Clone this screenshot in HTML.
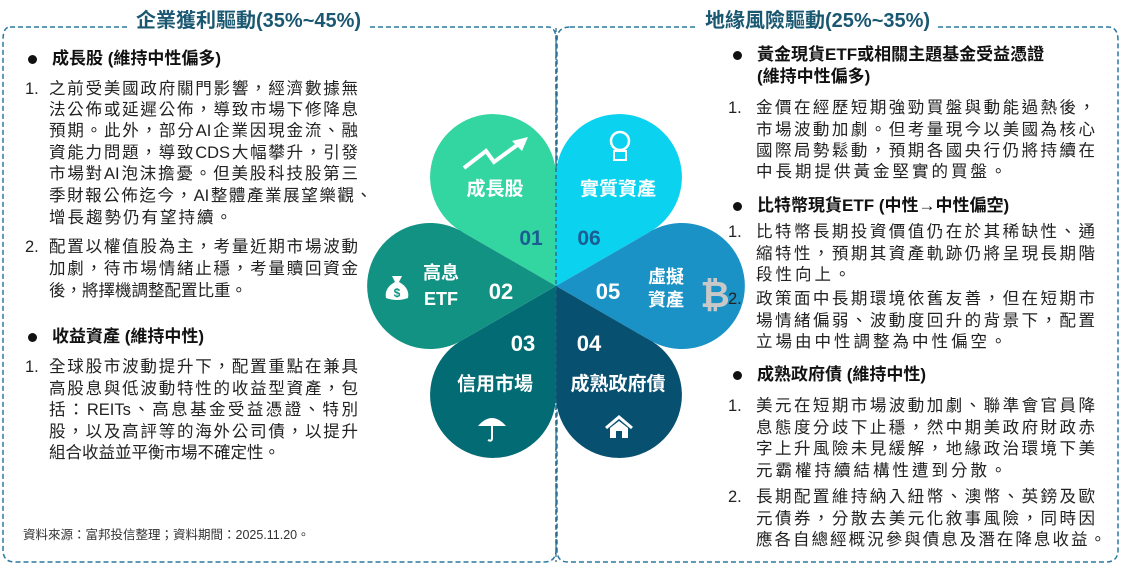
<!DOCTYPE html>
<html><head><meta charset="utf-8">
<style>
body{margin:0;width:1125px;height:567px;background:#fff;position:relative;overflow:hidden;font-family:"Liberation Sans","Noto Sans CJK TC",sans-serif;color:#222}
.l{position:absolute;font-size:16.5px;line-height:20px;white-space:nowrap}
.j{text-align:justify;text-align-last:justify}
.h{position:absolute;font-size:17px;font-weight:bold;line-height:20px;white-space:nowrap;color:#111}
.b{position:absolute;width:9px;height:9px;border-radius:50%;background:#111}
.t{position:absolute;font-size:20px;font-weight:bold;color:#1a5872;background:#fff;padding:0 8px;line-height:24px}
svg{position:absolute;left:0;top:0}
</style></head><body>
<svg width="1125" height="567">
<path d="M10 27 L548 27 Q556 27 556 40 L556 550 Q556 562 544 562 L15 562 Q3 562 3 550 L3 40 Q3 27 10 27Z" fill="none" stroke="#2a7aa0" stroke-width="1.5" stroke-dasharray="5,3"/>
<path d="M570 27 L1108 27 Q1118 27 1118 40 L1118 550 Q1118 562 1106 562 L568 562 Q557 562 557 550 L557 40 Q557 27 570 27Z" fill="none" stroke="#2a7aa0" stroke-width="1.5" stroke-dasharray="5,3"/>
<g>
<path d="M556 286 L464.5 233.2 A63 63 0 1 1 556 180.4Z" fill="#33d6a0"/>
<path d="M556 286 L556 180.4 A63 63 0 1 1 647.5 233.2Z" fill="#0bd2ee"/>
<path d="M556 286 L647.5 233.2 A63 63 0 1 1 647.5 338.8Z" fill="#1a92c6"/>
<path d="M556 286 L647.5 338.8 A63 63 0 1 1 556 391.6Z" fill="#07506f"/>
<path d="M556 286 L556 391.6 A63 63 0 1 1 464.5 338.8Z" fill="#036b73"/>
<path d="M556 286 L464.5 338.8 A63 63 0 1 1 464.5 233.2Z" fill="#129283"/>
</g>
<line x1="556" y1="28" x2="556" y2="562" stroke="#2a5f7a" stroke-width="1.2" stroke-dasharray="4,3"/>
<g font-family="Liberation Sans, Noto Sans CJK TC, sans-serif" font-weight="bold" text-anchor="middle">
<text x="495" y="195" fill="#fff" font-size="19">成長股</text>
<text x="618" y="195" fill="#fff" font-size="19">實質資產</text>
<text x="531" y="245" fill="#1b5d92" font-size="21">01</text>
<text x="589" y="245" fill="#1b5d92" font-size="21">06</text>
<text x="441" y="279" fill="#fff" font-size="18">高息</text>
<text x="441" y="305" fill="#fff" font-size="18">ETF</text>
<text x="501" y="299" fill="#fff" font-size="22">02</text>
<text x="608" y="299" fill="#fff" font-size="22">05</text>
<text x="666" y="283" fill="#fff" font-size="18">虛擬</text>
<text x="666" y="306" fill="#fff" font-size="18">資產</text>
<text x="715" y="307" fill="#c8c8c8" font-size="36">₿</text>
<text x="523" y="351" fill="#fff" font-size="22">03</text>
<text x="589" y="351" fill="#fff" font-size="22">04</text>
<text x="495" y="390" fill="#fff" font-size="19">信用市場</text>
<text x="618" y="390" fill="#fff" font-size="19">成熟政府債</text>
</g>
<polyline points="464,168 486,151 494,162 520,143" fill="none" stroke="#fff" stroke-width="4"/>
<polygon points="528,137 512,141 522,151" fill="#fff"/>
<circle cx="620" cy="141" r="9" fill="none" stroke="#fff" stroke-width="2.5"/>
<rect x="614" y="151" width="12" height="9" fill="none" stroke="#fff" stroke-width="2"/>
<path d="M392 276 L402 276 L399 282 Q410 288 408 298 Q397 302 386 298 Q384 288 395 282Z" fill="#fff"/>
<text x="397" y="297" fill="#129283" font-size="12" font-weight="bold" text-anchor="middle" font-family="Liberation Sans">$</text>
<path d="M478 426 Q492 410 506 426Z" fill="#fff"/>
<path d="M492 424 L492 438 Q492 442 488 440" fill="none" stroke="#fff" stroke-width="2"/>
<path d="M606 428 L619 417 L632 428" fill="none" stroke="#fff" stroke-width="3"/>
<path d="M610 428 L610 438 L616 438 L616 431 L622 431 L622 438 L628 438 L628 428 L619 421Z" fill="#fff"/>
</svg>
<div class="t" style="left:128px;top:9px">企業獲利驅動(35%~45%)</div>
<div class="t" style="left:697px;top:9px">地緣風險驅動(25%~35%)</div>

<div class="b" style="left:28px;top:55px"></div><div class="h" style="left:52px;top:49px">成長股 (維持中性偏多)</div>
<div class="l" style="left:25px;top:79px">1.</div>
<div class="l j" style="left:49px;top:79px;width:309px">之前受美國政府關門影響，經濟數據無</div>
<div class="l j" style="left:49px;top:100px;width:309px">法公佈或延遲公佈，導致市場下修降息</div>
<div class="l j" style="left:49px;top:121px;width:309px">預期。此外，部分AI企業因現金流、融</div>
<div class="l j" style="left:49px;top:143px;width:309px">資能力問題，導致CDS大幅攀升，引發</div>
<div class="l j" style="left:49px;top:164px;width:309px">市場對AI泡沫擔憂。但美股科技股第三</div>
<div class="l j" style="left:49px;top:186px;width:323px">季財報公佈迄今，AI整體產業展望樂觀、</div>
<div class="l" style="left:49px;top:208px;letter-spacing:2px">增長趨勢仍有望持續。</div>
<div class="l" style="left:25px;top:237px">2.</div>
<div class="l j" style="left:49px;top:237px;width:309px">配置以權值股為主，考量近期市場波動</div>
<div class="l j" style="left:49px;top:259px;width:309px">加劇，待市場情緒止穩，考量贖回資金</div>
<div class="l" style="left:49px;top:281px">後，將擇機調整配置比重。</div>
<div class="b" style="left:28px;top:333px"></div><div class="h" style="left:52px;top:327px">收益資產 (維持中性)</div>
<div class="l" style="left:25px;top:357px">1.</div>
<div class="l j" style="left:49px;top:357px;width:309px">全球股市波動提升下，配置重點在兼具</div>
<div class="l j" style="left:49px;top:379px;width:309px">高股息與低波動特性的收益型資產，包</div>
<div class="l j" style="left:49px;top:400px;width:309px">括：REITs、高息基金受益憑證、特別</div>
<div class="l j" style="left:49px;top:422px;width:309px">股，以及高評等的海外公司債，以提升</div>
<div class="l" style="left:49px;top:443px">組合收益並平衡市場不確定性。</div>
<div class="l" style="left:23px;top:525px;font-size:12.5px;color:#333">資料來源：富邦投信整理；資料期間：2025.11.20。</div>

<div class="b" style="left:733px;top:51px"></div><div class="h" style="left:757px;top:45px">黃金現貨ETF或相關主題基金受益憑證</div>
<div class="h" style="left:757px;top:67px">(維持中性偏多)</div>
<div class="l" style="left:728px;top:98px">1.</div>
<div class="l j" style="left:756px;top:98px;width:339px">金價在經歷短期強勁買盤與動能過熱後，</div>
<div class="l j" style="left:756px;top:120px;width:339px">市場波動加劇。但考量現今以美國為核心</div>
<div class="l j" style="left:756px;top:141px;width:339px">國際局勢鬆動，預期各國央行仍將持續在</div>
<div class="l" style="left:756px;top:162px;letter-spacing:3px">中長期提供黃金堅實的買盤。</div>
<div class="b" style="left:733px;top:202px"></div><div class="h" style="left:757px;top:196px">比特幣現貨ETF (中性→中性偏空)</div>
<div class="l" style="left:728px;top:222px">1.</div>
<div class="l j" style="left:756px;top:222px;width:339px">比特幣長期投資價值仍在於其稀缺性、通</div>
<div class="l j" style="left:756px;top:244px;width:339px">縮特性，預期其資產軌跡仍將呈現長期階</div>
<div class="l" style="left:756px;top:265px;letter-spacing:3px">段性向上。</div>
<div class="l" style="left:728px;top:289px">2.</div>
<div class="l j" style="left:756px;top:289px;width:339px">政策面中長期環境依舊友善，但在短期市</div>
<div class="l j" style="left:756px;top:311px;width:339px">場情緒偏弱、波動度回升的背景下，配置</div>
<div class="l" style="left:756px;top:332px;letter-spacing:3px">立場由中性調整為中性偏空。</div>
<div class="b" style="left:733px;top:371px"></div><div class="h" style="left:757px;top:365px">成熟政府債 (維持中性)</div>
<div class="l" style="left:728px;top:396px">1.</div>
<div class="l j" style="left:756px;top:396px;width:339px">美元在短期市場波動加劇、聯準會官員降</div>
<div class="l j" style="left:756px;top:418px;width:339px">息態度分歧下止穩，然中期美政府財政赤</div>
<div class="l j" style="left:756px;top:439px;width:339px">字上升風險未見緩解，地緣政治環境下美</div>
<div class="l" style="left:756px;top:461px;letter-spacing:3px">元霸權持續結構性遭到分散。</div>
<div class="l" style="left:728px;top:487px">2.</div>
<div class="l j" style="left:756px;top:487px;width:339px">長期配置維持納入紐幣、澳幣、英鎊及歐</div>
<div class="l j" style="left:756px;top:509px;width:339px">元債券，分散去美元化敘事風險，同時因</div>
<div class="l j" style="left:756px;top:530px;width:350px">應各自總經概況參與債息及潛在降息收益。</div>
</body></html>
